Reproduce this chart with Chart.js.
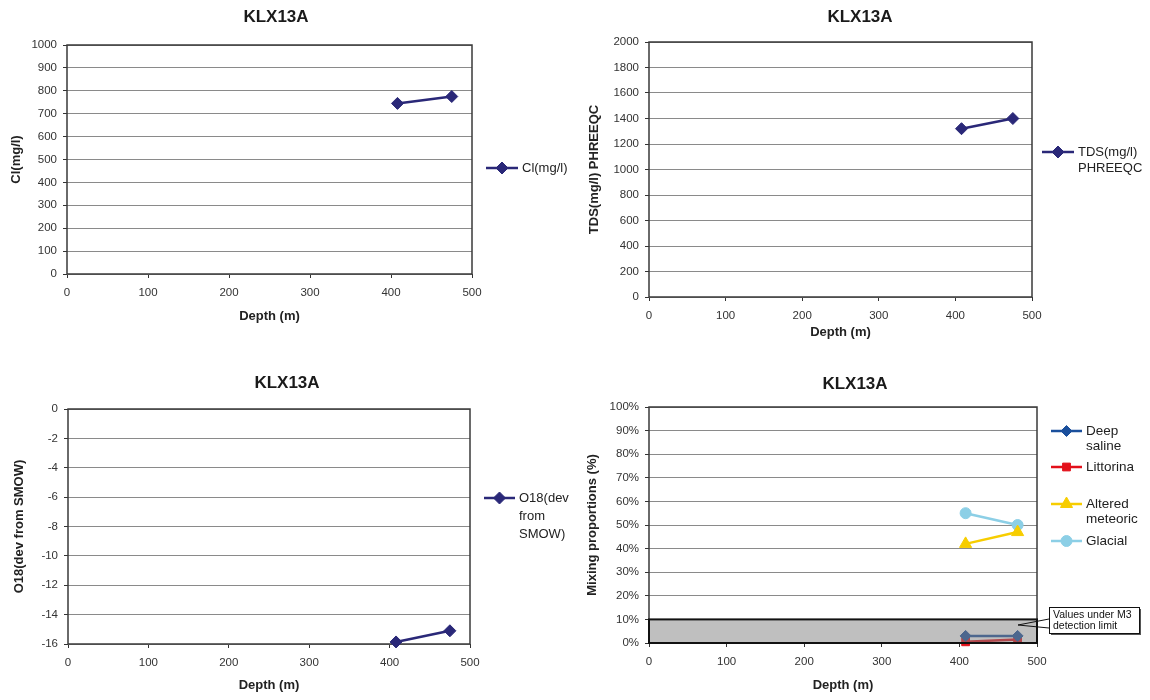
<!DOCTYPE html>
<html><head><meta charset="utf-8">
<script src="https://cdn.jsdelivr.net/npm/chart.js@4.4.1/dist/chart.umd.min.js"></script>
<style>
html,body{margin:0;padding:0;background:#fff;}
body{width:1150px;height:700px;position:relative;overflow:hidden;}
.box{position:absolute;}
canvas{display:block;}
</style></head><body>
<div class="box" style="left:0;top:0"><canvas id="c1" width="575" height="345"></canvas></div>
<div class="box" style="left:575px;top:0"><canvas id="c2" width="575" height="345"></canvas></div>
<div class="box" style="left:0;top:360px"><canvas id="c3" width="575" height="340"></canvas></div>
<div class="box" style="left:575px;top:360px"><canvas id="c4" width="575" height="340"></canvas></div>
<script>
// ---------- data ----------
const boreholeTitle = 'KLX13A';
const depth = [408, 475];
const clValues = [745, 775];
const tdsValues = [1320, 1400];
const o18Values = [-15.86, -15.1];
const deepSaline = [3, 3];
const littorina = [0.5, 1.5];
const alteredMeteoric = [42, 47];
const glacial = [55, 50];
const detectionLimit = 10;
const depthRange = [0, 500, 100];
const clRange = [0, 1000, 100];
const tdsRange = [0, 2000, 200];
const o18Range = [-16, 0, 2];
const mixRange = [0, 100, 10];

const FONT = '"Liberation Sans", Arial, Helvetica, sans-serif';
Chart.defaults.font.family = FONT;
Chart.defaults.color = '#333';

const NAVY = '#2a2878';
function pts(ys){ return depth.map((d,i)=>({x:d, y:ys[i]})); }

const layouts = {};

function drawMarker(ctx, style, r, x, y){
  if (Chart.helpers && Chart.helpers.drawPoint) {
    Chart.helpers.drawPoint(ctx, {pointStyle: style, radius: r, borderWidth: 1, rotation: 0}, x, y);
    return;
  }
  ctx.beginPath(); ctx.arc(x,y,r,0,Math.PI*2); ctx.fill(); ctx.stroke();
}

const decor = {
  id: 'decor',
  beforeDatasetsDraw(chart){
    const {ctx, chartArea: a} = chart;
    ctx.save();
    ctx.strokeStyle = '#3a3a3a'; ctx.lineWidth = 1.5;
    ctx.strokeRect(a.left, a.top, a.right - a.left, a.bottom - a.top);
    ctx.restore();
  },
  afterDatasetsDraw(chart){
    const L = layouts[chart.canvas.id];
    if (L.limit == null) return;
    const {ctx, scales:{x, y}} = chart;
    const x0 = x.getPixelForValue(depthRange[0]), x1 = x.getPixelForValue(depthRange[1]);
    const y0 = y.getPixelForValue(0), y1 = y.getPixelForValue(L.limit);
    ctx.save();
    ctx.fillStyle = 'rgba(128,128,128,0.5)';
    ctx.fillRect(x0, y1, x1 - x0, y0 - y1);
    ctx.strokeStyle = '#111'; ctx.lineWidth = 2;
    ctx.strokeRect(x0, y1, x1 - x0, y0 - y1);
    ctx.restore();
  },
  afterDraw(chart){
    const L = layouts[chart.canvas.id];
    const ctx = chart.ctx;
    ctx.save();
    // title
    ctx.fillStyle = '#1a1a1a';
    ctx.font = 'bold 17px ' + FONT;
    ctx.textAlign = 'center'; ctx.textBaseline = 'middle';
    ctx.fillText(boreholeTitle, L.titleX, L.titleY);
    // legend
    ctx.textAlign = 'left';
    ctx.font = L.legendFont + 'px ' + FONT;
    chart.data.datasets.forEach((ds, i) => {
      const row = L.legend[i];
      const y = row.y;
      ctx.strokeStyle = ds.borderColor; ctx.lineWidth = 2.5;
      ctx.beginPath(); ctx.moveTo(L.lx0, y); ctx.lineTo(L.lx1, y); ctx.stroke();
      ctx.fillStyle = ds.pointBackgroundColor; ctx.strokeStyle = ds.pointBorderColor; ctx.lineWidth = 1;
      drawMarker(ctx, ds.pointStyle, ds.pointRadius, (L.lx0 + L.lx1) / 2, y);
      ctx.fillStyle = '#222';
      ds.label.split('\n').forEach((t, k) => ctx.fillText(t, L.tx, y + k * L.lh));
    });
    // callout
    if (L.callout) {
      const c = L.callout;
      ctx.fillStyle = '#555';
      ctx.fillRect(c.x + 2, c.y + 2, c.w, c.h);
      ctx.fillStyle = '#fff';
      ctx.fillRect(c.x, c.y, c.w, c.h);
      ctx.strokeStyle = '#111'; ctx.lineWidth = 1;
      ctx.strokeRect(c.x + 0.5, c.y + 0.5, c.w, c.h);
      ctx.beginPath();
      ctx.moveTo(c.x, c.y + 12); ctx.lineTo(c.tipX, c.tipY); ctx.lineTo(c.x, c.y + 21);
      ctx.stroke();
      ctx.fillStyle = '#111';
      ctx.font = '10.5px ' + FONT;
      ctx.textBaseline = 'middle';
      c.lines.forEach((t, k) => ctx.fillText(t, c.x + 4, c.y + 8 + k * 11));
    }
    ctx.restore();
  }
};

function makeChart(id, L, datasets, yRange, yTitle, yFmt){
  layouts[id] = L;
  const cv = document.getElementById(id);
  const W = cv.width, H = cv.height, a = L.area;
  return new Chart(cv, {
    type: 'line',
    data: { datasets },
    options: {
      responsive: false, animation: false,
      layout: { padding: { left: L.padL, top: a.top, right: W - a.right, bottom: L.padB } },
      plugins: { legend: {display: false}, title: {display: false}, tooltip: {enabled: false} },
      scales: {
        x: {
          type: 'linear', min: depthRange[0], max: depthRange[1],
          ticks: { stepSize: depthRange[2], font: {size: 11.5}, color: '#333', padding: 8, maxRotation: 0,
                   callback: v => String(v) },
          grid: { drawOnChartArea: false, drawTicks: true, tickLength: 4, tickColor: '#333' },
          border: { display: false },
          title: { display: true, text: 'Depth (m)', font: {size: 13, weight: 'bold'}, color: '#222', padding: 0 },
          afterFit: s => { s.height = H - a.bottom - L.padB; }
        },
        y: {
          type: 'linear', min: yRange[0], max: yRange[1],
          ticks: { stepSize: yRange[2], font: {size: 11.5}, color: '#333', padding: 6,
                   callback: yFmt || (v => String(v)) },
          grid: { color: '#8a8a8a', lineWidth: 1, drawTicks: true, tickLength: 4, tickColor: '#333' },
          border: { display: false },
          title: { display: true, text: yTitle, font: {size: 13, weight: 'bold'}, color: '#222', padding: 0 },
          afterFit: s => { s.width = a.left - L.padL; }
        }
      }
    },
    plugins: [decor]
  });
}

function series(label, values, color, style, r){
  return { label, data: pts(values), borderColor: color, backgroundColor: color,
    pointBackgroundColor: color, pointBorderColor: color, pointStyle: style, pointRadius: r,
    pointBorderWidth: 1, borderWidth: 2.5, tension: 0, clip: false, fill: false };
}

makeChart('c1', {
  area: {left: 67, top: 45, right: 472, bottom: 274}, padL: 9, padB: 21,
  titleX: 276, titleY: 17, lx0: 486, lx1: 518, tx: 522, lh: 16, legendFont: 13,
  legend: [{y: 168}]
}, [series('Cl(mg/l)', clValues, NAVY, 'rectRot', 6)], clRange, 'Cl(mg/l)');

makeChart('c2', {
  area: {left: 74, top: 42, right: 457, bottom: 297}, padL: 12, padB: 5,
  titleX: 285, titleY: 17, lx0: 467, lx1: 499, tx: 503, lh: 16, legendFont: 13,
  legend: [{y: 152}]
}, [series('TDS(mg/l)\nPHREEQC', tdsValues, NAVY, 'rectRot', 6)], tdsRange, 'TDS(mg/l) PHREEQC');

makeChart('c3', {
  area: {left: 68, top: 49, right: 470, bottom: 284}, padL: 12, padB: 7,
  titleX: 287, titleY: 23, lx0: 484, lx1: 515, tx: 519, lh: 18, legendFont: 13,
  legend: [{y: 138}]
}, [series('O18(dev\nfrom\nSMOW)', o18Values, NAVY, 'rectRot', 6)], o18Range, 'O18(dev from SMOW)');

makeChart('c4', {
  area: {left: 74, top: 47, right: 462, bottom: 283}, padL: 10, padB: 7,
  titleX: 280, titleY: 24, lx0: 476, lx1: 507, tx: 511, lh: 15, legendFont: 13.5,
  legend: [{y: 71}, {y: 107}, {y: 144}, {y: 181}],
  limit: detectionLimit,
  callout: {x: 474, y: 247, w: 90, h: 26, tipX: 443, tipY: 265,
            lines: ['Values under M3', 'detection limit']}
}, [
  series('Deep\nsaline', deepSaline, '#1a4f9c', 'rectRot', 5.5),
  series('Littorina', littorina, '#e3101a', 'rect', 5.5),
  series('Altered\nmeteoric', alteredMeteoric, '#f7cd00', 'triangle', 7),
  series('Glacial', glacial, '#8ccfe6', 'circle', 5.5)
], mixRange, 'Mixing proportions (%)', v => v + '%');
</script>
</body></html>
